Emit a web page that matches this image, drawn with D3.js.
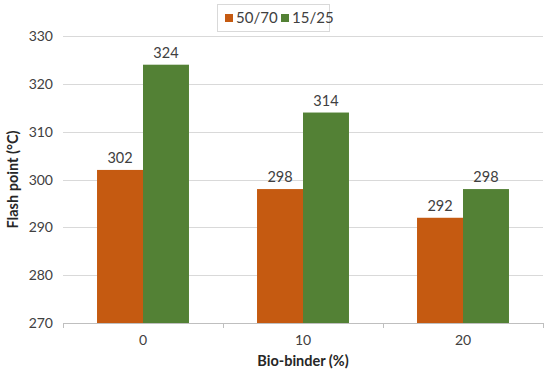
<!DOCTYPE html>
<html>
<head>
<meta charset="utf-8">
<script src="https://cdn.jsdelivr.net/npm/d3@7"></script>
<style>
body { margin: 0; background: #fff; }
text { font-family: Lato, "Open Sans", sans-serif; }
</style>
</head>
<body>
<svg id="chart" width="550" height="375"></svg>
<script>
// bio-binder content and flash points
var categories = ["0", "10", "20"];
var seriesNames = ["50/70", "15/25"];
var bitumen5070 = [302, 298, 292];
var bitumen1525 = [324, 314, 298];
var yTicks = [270, 280, 290, 300, 310, 320, 330];
var colors = ["#C55A11", "#538135"];

var svg = d3.select("#chart");
var plotLeft = 63, plotRight = 543, plotTop = 36, plotBottom = 323;

var x = d3.scaleBand()
.domain(categories)
.range([plotLeft, plotRight]);

var inner = d3.scaleBand()
.domain(seriesNames)
.range([0, x.bandwidth()])
.paddingInner(0)
.paddingOuter(0.74);

var y = d3.scaleLinear()
.domain([270, 330])
.range([plotBottom, plotTop]);

// gridlines
svg.selectAll(".grid")
.data(yTicks)
.enter().append("line")
.attr("x1", plotLeft)
.attr("x2", plotRight)
.attr("y1", function (d) { return Math.round(y(d)) + 0.5; })
.attr("y2", function (d) { return Math.round(y(d)) + 0.5; })
.style("stroke", "#d9d9d9");

// y tick labels
svg.selectAll(".ylab")
.data(yTicks)
.enter().append("text")
.text(function (d) { return d; })
.attr("x", plotLeft - 10)
.attr("y", function (d) { return y(d) + 5; })
.attr("text-anchor", "end")
.attr("font-size", 14)
.attr("fill", "#404040");

var table = categories.map(function (c, i) {
	return [bitumen5070[i], bitumen1525[i]];
});

table.forEach(function (vals, i) {
	vals.forEach(function (v, j) {
		var bx = x(categories[i]) + inner(seriesNames[j]);
		svg.append("rect")
		.attr("x", bx)
		.attr("y", y(v))
		.attr("width", inner.bandwidth())
		.attr("height", y(270) - y(v))
		.style("fill", colors[j]);
		svg.append("text")
		.text(v)
		.attr("x", bx + inner.bandwidth() / 2)
		.attr("y", y(v) - 7)
		.attr("text-anchor", "middle")
		.attr("font-size", 14.5)
		.attr("fill", "#404040");
	});
});

// x axis line and category ticks
svg.append("line")
.attr("x1", plotLeft)
.attr("x2", plotRight)
.attr("y1", plotBottom + 0.5)
.attr("y2", plotBottom + 0.5)
.style("stroke", "#bfbfbf");

var bounds = categories.map(function (c) { return x(c); }).concat([plotRight]);
svg.selectAll(".xtick")
.data(bounds)
.enter().append("line")
.attr("x1", function (d) { return Math.round(d) + 0.5; })
.attr("x2", function (d) { return Math.round(d) + 0.5; })
.attr("y1", plotBottom)
.attr("y2", plotBottom + 5)
.style("stroke", "#bfbfbf");

svg.selectAll(".xlab")
.data(categories)
.enter().append("text")
.text(function (d) { return d; })
.attr("x", function (d) { return x(d) + x.bandwidth() / 2; })
.attr("y", 345)
.attr("text-anchor", "middle")
.attr("font-size", 14)
.attr("fill", "#404040");

// axis titles
svg.append("text")
.text("Bio-binder (%)")
.attr("x", (plotLeft + plotRight) / 2)
.attr("y", 366)
.attr("text-anchor", "middle")
.attr("font-size", 14.5)
.attr("font-weight", "bold")
.attr("fill", "#262626");

svg.append("text")
.text("Flash point (°C)")
.attr("transform", "translate(18," + ((plotTop + plotBottom) / 2) + ") rotate(-90)")
.attr("text-anchor", "middle")
.attr("font-size", 14.5)
.attr("font-weight", "bold")
.attr("fill", "#262626");

// legend
svg.append("rect")
.attr("x", 217.5)
.attr("y", 4.5)
.attr("width", 112)
.attr("height", 27)
.style("fill", "#fff")
.style("stroke", "#d9d9d9");

var legendX = [225, 281];
seriesNames.forEach(function (name, j) {
	svg.append("rect")
	.attr("x", legendX[j])
	.attr("y", 14)
	.attr("width", 8)
	.attr("height", 8)
	.style("fill", colors[j]);
	svg.append("text")
	.text(name)
	.attr("x", legendX[j] + 11)
	.attr("y", 23)
	.attr("font-size", 15)
	.attr("fill", "#404040");
});
</script>
</body>
</html>
